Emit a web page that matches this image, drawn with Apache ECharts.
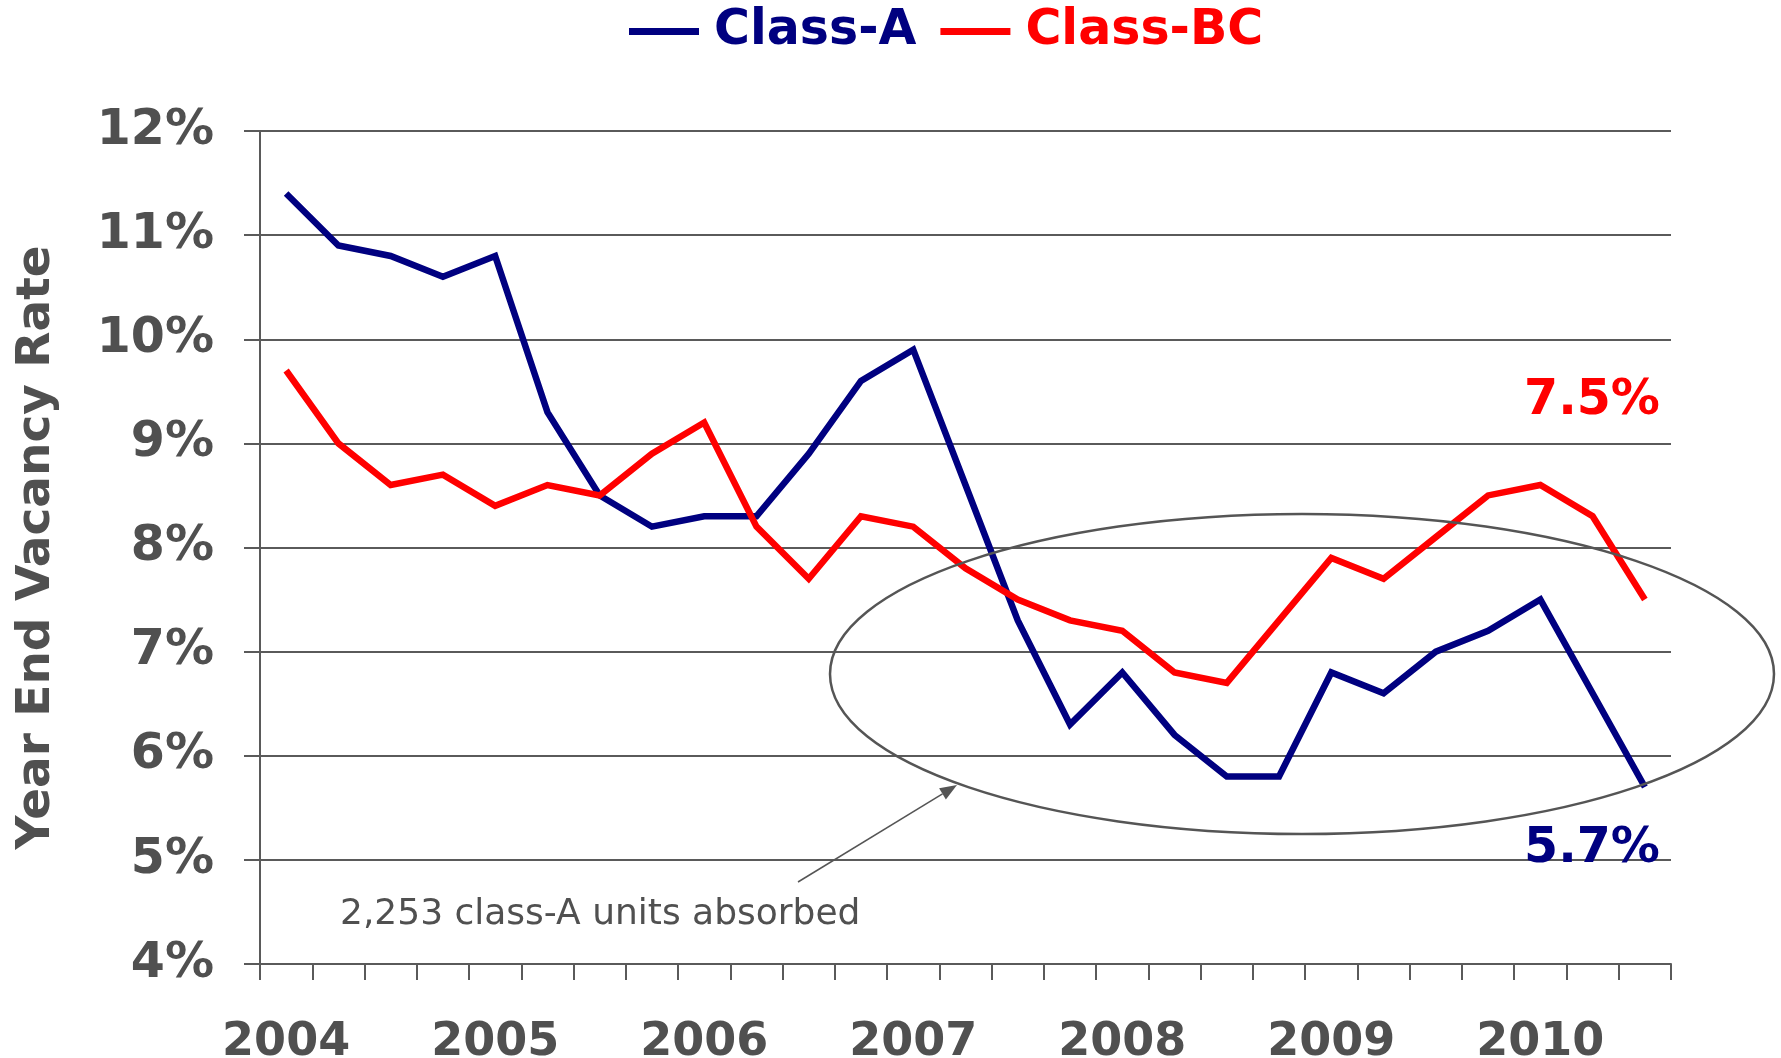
<!DOCTYPE html>
<html>
<head>
<meta charset="utf-8">
<title>Year End Vacancy Rate</title>
<script src="https://cdn.jsdelivr.net/npm/echarts@6/dist/echarts.min.js"></script>
<style>
  html, body { margin: 0; padding: 0; background: #fff; }
  #chart { width: 1781px; height: 1058px; }
</style>
</head>
<body>
<div id="chart"></div>
<script>
// quarterly points, 2004 Q1 .. 2010 Q3
const quarters = [
  "2004 Q1", "2004 Q2", "2004 Q3", "2004 Q4",
  "2005 Q1", "2005 Q2", "2005 Q3", "2005 Q4",
  "2006 Q1", "2006 Q2", "2006 Q3", "2006 Q4",
  "2007 Q1", "2007 Q2", "2007 Q3", "2007 Q4",
  "2008 Q1", "2008 Q2", "2008 Q3", "2008 Q4",
  "2009 Q1", "2009 Q2", "2009 Q3", "2009 Q4",
  "2010 Q1", "2010 Q2", "2010 Q3",
];

const classA = [
  11.4, 10.9, 10.8, 10.6, 10.8, 9.3, 8.5, 8.2, 8.3, 8.3, 8.9, 9.6, 9.9, 8.6,
  7.3, 6.3, 6.8, 6.2, 5.8, 5.8, 6.8, 6.6, 7.0, 7.2, 7.5, 6.6, 5.7,
];
const classBC = [
  9.7, 9.0, 8.6, 8.7, 8.4, 8.6, 8.5, 8.9, 9.2, 8.2, 7.7, 8.3, 8.2, 7.8,
  7.5, 7.3, 7.2, 6.8, 6.7, 7.3, 7.9, 7.7, 8.1, 8.5, 8.6, 8.3, 7.5,
];

const yTicks = [4, 12, 1]; // min, max, step (percent)
const endLabels = ["7.5%", "5.7%"];
const noteText = "2,253 class-A units absorbed";

const navy = "#000080";
const red = "#ff0000";
const gray = "#5a5a5a";
const textGray = "#505050";
const font = "DejaVu Sans";

const chart = echarts.init(document.getElementById("chart"));

const option = {
  animation: false,
  backgroundColor: "#fff",
  grid: { left: 260, right: 110, top: 131, bottom: 94, outerBoundsMode: "none" },
  legend: {
    left: 624,
    top: 2,
    itemWidth: 70,
    itemHeight: 7,
    itemGap: 24,
    icon: "rect",
    data: [
      { name: "Class-A", textStyle: { color: navy } },
      { name: "Class-BC", textStyle: { color: red } },
    ],
    textStyle: {
      fontFamily: font,
      fontWeight: "bold",
      fontSize: 49,
      padding: [0, 0, 0, 10],
    },
  },
  xAxis: {
    type: "category",
    data: quarters,
    boundaryGap: true,
    axisLine: { show: true, lineStyle: { color: gray, width: 2 } },
    axisTick: { show: true, interval: 0, length: 16, lineStyle: { color: gray, width: 2 } },
    axisLabel: {
      interval: 3,
      margin: 56,
      color: textGray,
      fontFamily: font,
      fontWeight: "bold",
      fontSize: 46,
      formatter: (v) => v.slice(0, 4),
    },
    splitLine: { show: false },
  },
  yAxis: {
    type: "value",
    min: yTicks[0],
    max: yTicks[1],
    interval: yTicks[2],
    name: "Year End Vacancy Rate",
    nameLocation: "middle",
    nameRotate: 90,
    nameGap: 200,
    nameTextStyle: {
      color: textGray,
      fontFamily: font,
      fontWeight: "bold",
      fontSize: 47,
    },
    axisLine: { show: true, lineStyle: { color: gray, width: 2 } },
    axisTick: { show: true, length: 16, lineStyle: { color: gray, width: 2 } },
    axisLabel: {
      margin: 46,
      color: textGray,
      fontFamily: font,
      fontWeight: "bold",
      fontSize: 49,
      formatter: "{value}%",
    },
    splitLine: { show: true, lineStyle: { color: gray, width: 2 } },
  },
  series: [
    {
      name: "Class-A",
      type: "line",
      data: classA,
      showSymbol: false,
      color: navy,
      lineStyle: { color: navy, width: 6.5, join: "miter" },
    },
    {
      name: "Class-BC",
      type: "line",
      data: classBC,
      showSymbol: false,
      color: red,
      lineStyle: { color: red, width: 6.5, join: "miter" },
    },
  ],
};

chart.setOption(option);

// annotations: ellipse around 2007-2010, arrow + note, end-value labels
const tip = [957, 785];
const tail = [798, 882];
const dx = tip[0] - tail[0], dy = tip[1] - tail[1];
const len = Math.hypot(dx, dy);
const ux = dx / len, uy = dy / len;
const headLen = 17, headHalf = 6.5;
const base = [tip[0] - ux * headLen, tip[1] - uy * headLen];

chart.setOption({
  graphic: [
    {
      type: "ellipse",
      shape: { cx: 1302, cy: 674, rx: 472, ry: 160 },
      style: { fill: null, stroke: "#555", lineWidth: 2.5 },
      z: 10,
    },
    {
      type: "line",
      shape: { x1: tail[0], y1: tail[1], x2: base[0], y2: base[1] },
      style: { stroke: "#555", lineWidth: 1.5 },
      z: 10,
    },
    {
      type: "polygon",
      shape: {
        points: [
          tip,
          [base[0] - uy * headHalf, base[1] + ux * headHalf],
          [base[0] + uy * headHalf, base[1] - ux * headHalf],
        ],
      },
      style: { fill: "#555" },
      z: 10,
    },
    {
      type: "text",
      left: 340,
      top: 897,
      style: {
        text: noteText,
        fill: textGray,
        font: "36px 'DejaVu Sans'",
      },
      z: 10,
    },
    {
      type: "text",
      x: 1592,
      y: 401,
      style: {
        text: endLabels[0],
        fill: red,
        font: "bold 49px 'DejaVu Sans'",
        align: "center",
        verticalAlign: "middle",
      },
      z: 10,
    },
    {
      type: "text",
      x: 1592,
      y: 849,
      style: {
        text: endLabels[1],
        fill: navy,
        font: "bold 49px 'DejaVu Sans'",
        align: "center",
        verticalAlign: "middle",
      },
      z: 10,
    },
  ],
});

window.addEventListener("resize", () => chart.resize());
</script>
</body>
</html>
